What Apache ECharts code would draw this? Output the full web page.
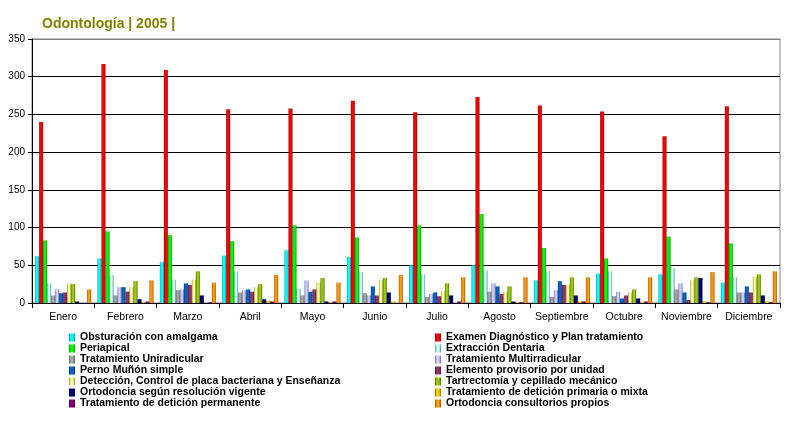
<!DOCTYPE html>
<html>
<head>
<meta charset="utf-8">
<script src="https://cdn.jsdelivr.net/npm/echarts@6/dist/echarts.min.js"></script>
<style>
html,body{margin:0;padding:0;background:#fff;}
#c{width:796px;height:423px;}
</style>
</head>
<body>
<div id="c"></div>
<script>
const months = ['Enero','Febrero','Marzo','Abril','Mayo','Junio','Julio','Agosto','Septiembre','Octubre','Noviembre','Diciembre'];
const yTicks = { min: 0, max: 350, interval: 50 };

const obsturacion     = [62, 59, 54, 63, 70, 61, 50, 50, 30, 39, 38, 27];
const examen          = [240, 317, 309, 257, 258, 268, 253, 273, 262, 254, 221, 261];
const periapical      = [83, 95, 90, 82, 103, 87, 103, 118, 73, 59, 88, 79];
const extraccion      = [26, 37, 31, 42, 19, 41, 38, 43, 42, 42, 46, 34];
const uniradicular    = [10, 10, 17, 14, 10, 13, 8, 15, 8, 9, 18, 14];
const multirradicular = [18, 21, 18, 17, 30, 10, 12, 26, 17, 15, 26, 14];
const perno           = [13, 21, 26, 18, 15, 22, 14, 22, 29, 6, 14, 22];
const elemento        = [14, 15, 24, 15, 18, 10, 9, 12, 24, 10, 4, 14];
const deteccion       = [26, 21, 31, 21, 27, 30, 16, 15, 24, 14, 30, 35];
const tartrectomia    = [25, 29, 42, 25, 33, 33, 26, 22, 34, 18, 34, 38];
const ortoSegun       = [2, 5, 10, 5, 2, 14, 10, 2, 10, 6, 33, 10];
const tratPrimaria    = [0, 1, 0, 3, 1, 2, 0, 1, 2, 1, 2, 2];
const tratPermanente  = [0, 2, 1, 2, 2, 0, 2, 1, 2, 2, 1, 1];
const ortoPropios     = [18, 30, 27, 37, 27, 37, 34, 34, 34, 34, 41, 42];

const seriesDefs = [
  ['Obsturación con amalgama', obsturacion, '#00FFFF', '#009A9A'],
  ['Examen Diagnóstico y Plan tratamiento', examen, '#FF0000', '#8A0000'],
  ['Periapical', periapical, '#00FF00', '#008A00'],
  ['Extracción Dentaria', extraccion, '#CCFFFF', '#5A8C8C'],
  ['Tratamiento Uniradicular', uniradicular, '#A6A6A6', '#5E5E5E'],
  ['Tratamiento Multirradicular', multirradicular, '#CCCCFF', '#6A6AA0'],
  ['Perno Muñón simple', perno, '#0066CC', '#00336A'],
  ['Elemento provisorio por unidad', elemento, '#993366', '#4D1A33'],
  ['Detección, Control de placa bacteriana y Enseñanza', deteccion, '#FFFF99', '#8C8C4A'],
  ['Tartrectomía y cepillado mecánico', tartrectomia, '#99CC00', '#4D6600'],
  ['Ortodoncia según resolución vigente', ortoSegun, '#000080', '#000040'],
  ['Tratamiento de detición primaria o mixta', tratPrimaria, '#FFCC00', '#996600'],
  ['Tratamiento de detición permanente', tratPermanente, '#800080', '#400040'],
  ['Ortodoncia consultorios propios', ortoPropios, '#FF9900', '#994D00']
];

function grad(c, d) {
  return new echarts.graphic.LinearGradient(0, 0, 1, 0, [
    { offset: 0, color: d }, { offset: 0.3, color: c },
    { offset: 0.65, color: c }, { offset: 1, color: d }
  ]);
}

const series = seriesDefs.map(([name, data, c, d]) => ({
  name: name, type: 'bar', data: data, barWidth: 4, barGap: '0%',
  itemStyle: { color: grad(c, d) }, animation: false
}));

const legendText = { fontFamily: 'Liberation Sans, Arial', fontWeight: 'bold', fontSize: 10.5, color: '#000', lineHeight: 10.8 };

const chart = echarts.init(document.getElementById('c'), null, { renderer: 'canvas' });
chart.setOption({
  animation: false,
  backgroundColor: '#fff',
  title: {
    text: 'Odontología | 2005 |', left: 37, top: 12,
    textStyle: { fontFamily: 'Liberation Sans, Arial', fontWeight: 'bold', fontSize: 14, color: '#808000' }
  },
  grid: { left: 32, right: 16, top: 39, bottom: 120, show: true, borderColor: '#808080', borderWidth: 1 },
  legend: [
    { orient: 'vertical', left: 69, top: 332, padding: 0, itemWidth: 6, itemHeight: 8, itemGap: 0, icon: 'rect',
      textStyle: legendText, selectedMode: false,
      data: seriesDefs.filter((_, i) => i % 2 === 0).map(s => s[0]) },
    { orient: 'vertical', left: 435, top: 332, padding: 0, itemWidth: 6, itemHeight: 8, itemGap: 0, icon: 'rect',
      textStyle: legendText, selectedMode: false,
      data: seriesDefs.filter((_, i) => i % 2 === 1).map(s => s[0]) }
  ],
  xAxis: {
    type: 'category', data: months, boundaryGap: true,
    axisLine: { lineStyle: { color: '#000', width: 1 } },
    axisTick: { show: true, length: 5, interval: 0, lineStyle: { color: '#000' } },
    axisLabel: { color: '#000', fontFamily: 'Liberation Sans, Arial', fontSize: 10.5, margin: 9, interval: 0 }
  },
  yAxis: {
    type: 'value', min: yTicks.min, max: yTicks.max, interval: yTicks.interval,
    axisLine: { show: true, lineStyle: { color: '#000', width: 1 } },
    axisTick: { show: true, length: 4, lineStyle: { color: '#000' } },
    axisLabel: { color: '#000', fontFamily: 'Liberation Sans, Arial', fontSize: 10, margin: 7 },
    splitLine: { show: true, lineStyle: { color: ['#000','#000','#000','#000','#000','#000','#000','#808080'], width: 1 } }
  },
  series: series
});
</script>
</body>
</html>
